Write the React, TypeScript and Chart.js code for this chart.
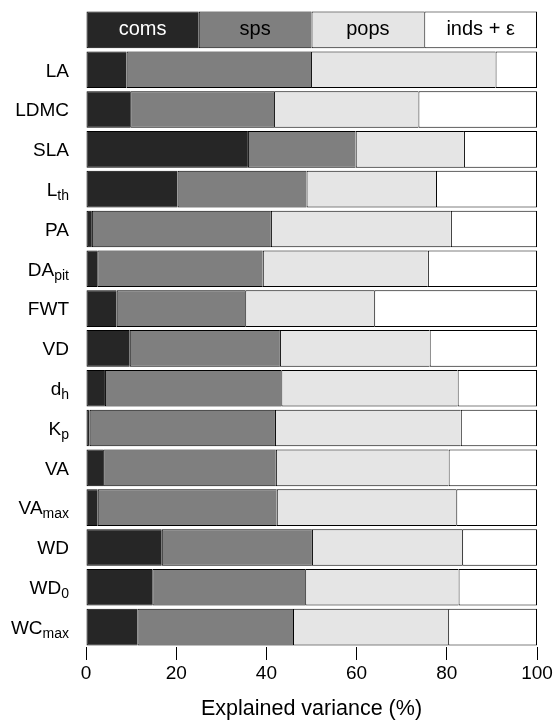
import React, { useEffect, useRef } from "react";
import { Chart, registerables } from "chart.js";

Chart.register(...registerables);

// Trait names (main part) and their subscripts
const traitNames = ["LA", "LDMC", "SLA", "L", "PA", "DA", "FWT", "VD", "d", "K", "VA", "VA", "WD", "WD", "WC"];
const traitSubs = ["", "", "", "th", "", "pit", "", "", "h", "p", "", "max", "", "0", "max"];

// Variance components (key row on top shows equal shares)
const componentLabels = ["coms", "sps", "pops", "inds + ε"];
const keyRowShares = [25, 25, 25, 25];

// Explained variance (%) per trait
const coms = [9.0, 9.8, 35.9, 20.3, 1.3, 2.5, 6.8, 9.7, 4.2, 0.8, 3.8, 2.6, 16.8, 14.7, 11.4];
const sps = [40.9, 31.9, 23.9, 28.6, 39.7, 36.7, 28.5, 33.3, 39.1, 41.1, 38.3, 39.7, 33.3, 33.9, 34.5];
const pops = [40.9, 32.0, 24.0, 28.7, 39.9, 36.6, 28.6, 33.2, 39.1, 41.2, 38.3, 39.8, 33.3, 34.0, 34.4];
const inds = [9.2, 26.3, 16.2, 22.4, 19.1, 24.2, 36.1, 23.8, 17.6, 16.9, 19.6, 17.9, 16.6, 17.4, 19.7];

const xTicks = [0, 20, 40, 60, 80, 100];
const xTitle = "Explained variance (%)";

const FONT = '"Liberation Sans", Arial, Helvetica, sans-serif';
const fills = ["#262626", "#7f7f7f", "#e5e5e5", "#ffffff"];
const keyTextColors = ["#ffffff", "#000000", "#000000", "#000000"];

const yLabelPlugin = {
  id: "yLabelPlugin",
  afterDraw(chart: any) {
    const ctx = chart.ctx;
    const yScale = chart.scales.y;
    const rightX = 69;
    ctx.save();
    ctx.fillStyle = "#000";
    ctx.textBaseline = "alphabetic";
    ctx.textAlign = "left";
    const mainSize = 19;
    const subSize = 14;
    traitNames.forEach((name, i) => {
      const yc = yScale.getPixelForValue(i + 1);
      const base = yc + mainSize * 0.358;
      ctx.font = `${mainSize}px ${FONT}`;
      const wMain = ctx.measureText(name).width;
      const sub = traitSubs[i];
      ctx.font = `${subSize}px ${FONT}`;
      const wSub = sub ? ctx.measureText(sub).width : 0;
      const x0 = rightX - wMain - wSub;
      ctx.font = `${mainSize}px ${FONT}`;
      ctx.fillText(name, x0, base);
      if (sub) {
        ctx.font = `${subSize}px ${FONT}`;
        ctx.fillText(sub, x0 + wMain, base + 4);
      }
    });
    ctx.restore();
  },
};

const keyTextPlugin = {
  id: "keyTextPlugin",
  afterDatasetsDraw(chart: any) {
    const ctx = chart.ctx;
    ctx.save();
    ctx.font = `20px ${FONT}`;
    ctx.textAlign = "center";
    ctx.textBaseline = "alphabetic";
    chart.data.datasets.forEach((ds: any, di: number) => {
      const meta = chart.getDatasetMeta(di);
      const el = meta.data[0];
      if (!el) return;
      const p = el.getProps(["x", "y", "base"], true);
      const cx = (p.x + p.base) / 2;
      ctx.fillStyle = keyTextColors[di];
      ctx.fillText(ds.label, cx, p.y + 5.2);
    });
    ctx.restore();
  },
};

export default function App() {
  const ref = useRef<HTMLCanvasElement>(null);
  useEffect(() => {
    const series = [coms, sps, pops, inds];
    const labels = ["", ...traitNames.map((n, i) => n + traitSubs[i])];
    const chart = new Chart(ref.current as HTMLCanvasElement, {
      type: "bar",
      data: {
        labels,
        datasets: series.map((vals, k) => ({
          label: componentLabels[k],
          data: [keyRowShares[k], ...vals],
          backgroundColor: fills[k],
          borderColor: "#000",
          borderWidth: k === 3 ? 1 : { left: 1, top: 1, bottom: 1, right: 0 },
          borderSkipped: false,
          barPercentage: 0.92,
          categoryPercentage: 1,
        })),
      },
      options: {
        indexAxis: "y",
        animation: false,
        responsive: false,
        devicePixelRatio: 1,
        layout: { padding: { top: 10, right: 19, bottom: 0, left: 0 } },
        plugins: {
          legend: { display: false },
          tooltip: { enabled: false },
        },
        scales: {
          x: {
            type: "linear",
            stacked: true,
            min: 0,
            max: 100,
            afterBuildTicks: (s: any) => {
              s.ticks = xTicks.map((v) => ({ value: v }));
            },
            afterFit: (s: any) => {
              s.height = 74;
            },
            grid: {
              display: true,
              drawOnChartArea: false,
              drawTicks: true,
              tickLength: 13,
              color: "#000",
              lineWidth: 1,
            },
            border: { display: false },
            ticks: {
              color: "#000",
              padding: 2,
              maxRotation: 0,
              autoSkip: false,
              font: { family: FONT, size: 19 },
            },
            title: {
              display: true,
              text: xTitle,
              color: "#000",
              padding: { top: 0, bottom: 0 },
              font: { family: FONT, size: 21.5, lineHeight: 1.1 },
            },
          },
          y: {
            type: "category",
            stacked: true,
            offset: true,
            grid: { display: false },
            border: { display: false },
            ticks: { display: false },
            afterFit: (s: any) => {
              s.width = 86;
            },
          },
        },
      } as any,
      plugins: [yLabelPlugin, keyTextPlugin],
    });
    return () => chart.destroy();
  }, []);
  return (
    <div style={{ position: "absolute", left: 0, top: 0, width: 556, height: 721, background: "#fff" }}>
      <canvas ref={ref} width={556} height={721} style={{ display: "block" }} />
    </div>
  );
}
